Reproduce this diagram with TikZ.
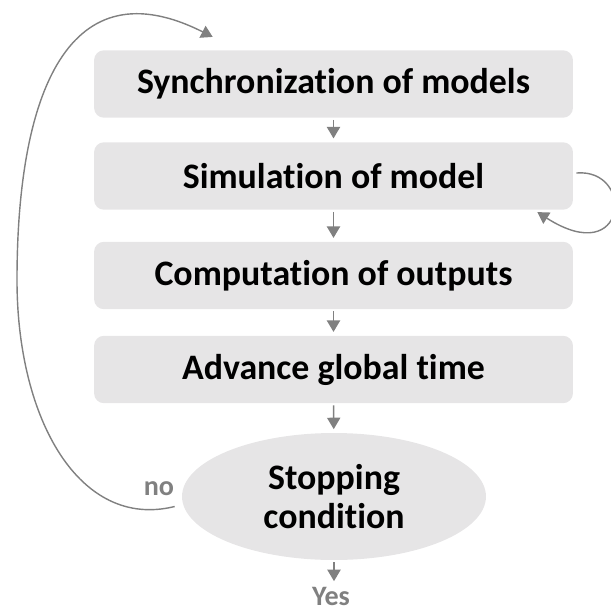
\documentclass[tikz,border=0pt]{standalone}
\usepackage{fontspec}
\setmainfont{Carlito}[Ligatures=NoCommon]
\usetikzlibrary{arrows.meta,shapes.geometric}

\definecolor{boxgrau}{RGB}{230,229,230}
\definecolor{pfeilgrau}{RGB}{128,128,128}

\tikzset{
    schritt/.style={fill=boxgrau, rounded corners=0.2cm, minimum width=9.58cm,
        minimum height=1.35cm, font=\bfseries\fontsize{20.4}{24}\selectfont},
    abfrage/.style={ellipse, fill=boxgrau, minimum width=6.08cm, minimum height=2.54cm,
        align=center, font=\bfseries\fontsize{20.4}{22}\selectfont},
    pfeil/.style={->, draw=pfeilgrau, line width=0.8pt},
    marke/.style={text=pfeilgrau, anchor=base, inner sep=1pt,
        font=\bfseries\fontsize{16}{18}\selectfont}
}

\begin{document}
\begin{tikzpicture}[x=0.02cm, y=-0.02cm, >={Triangle[length=6.5pt,width=7.5pt]}]
    \useasboundingbox (0,0) rectangle (610,612);

    % Schritte
    \node[schritt] (sync) at (333.5,84) {Synchronization of models};
    \node[schritt] (sim) at (333.5,176) {Simulation of model};
    \node[schritt] (comp) at (333.5,275.5) {Computation of outputs};
    \node[schritt] (adv) at (333.5,369.5) {Advance global time};
    \node[abfrage] (stop) at (334,496.5) {Stopping\\condition};
    \node[marke] (yes) at (331,605) {Yes};
    \node[marke] (no) at (159,495) {no};

    % Pfeile nach unten
    \draw[pfeil, shorten <=1pt, shorten >=2pt] (sync) -- (sim);
    \draw[pfeil, shorten <=1pt, shorten >=2pt] (sim) -- (comp);
    \draw[pfeil, shorten <=1pt, shorten >=2pt] (comp) -- (adv);
    \draw[pfeil, shorten <=1pt, shorten >=2pt] (adv) -- (stop);
    \draw[pfeil, shorten <=1pt, shorten >=2pt] (stop.south) -- (stop.south |- yes.north);

    % Schleife am Simulationsschritt
    \draw[pfeil] ([shift={(3,-3)}]sim.east)
        .. controls (635,168) and (628,270) .. ([shift={(-36,2)}]sim.south east);

    % Rueckfuehrung bei "no"
    \draw[pfeil] ([shift={(-7,10)}]stop.west)
        .. controls (80,530) and (17,420) .. (17,280)
        .. controls (17,90) and (70,-35) .. ([shift={(119,-13)}]sync.north west);
\end{tikzpicture}
\end{document}
